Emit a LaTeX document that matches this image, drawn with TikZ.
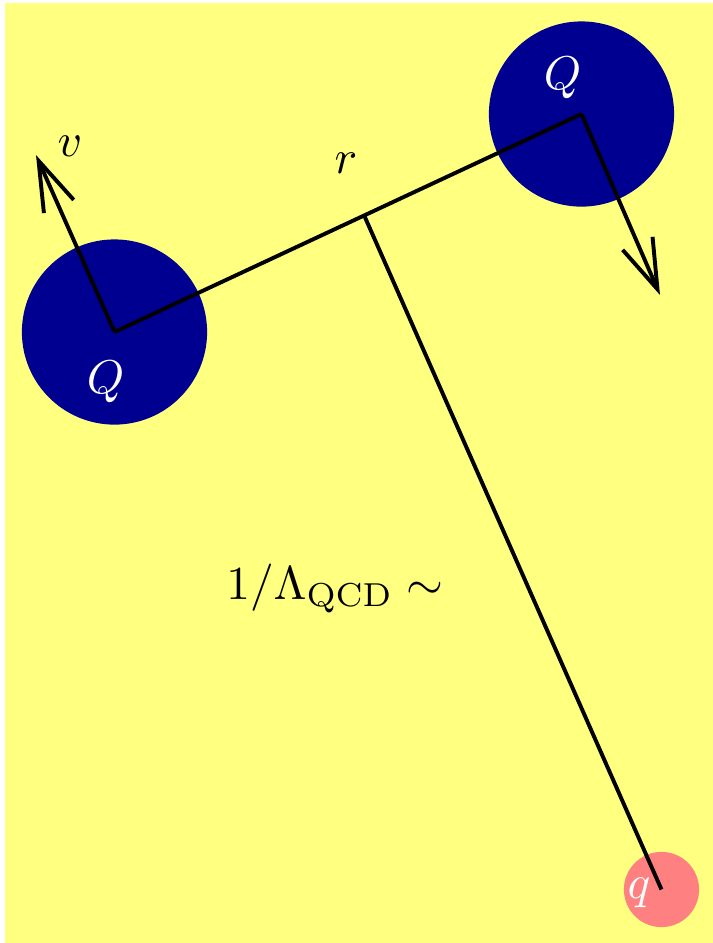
\documentclass[tikz,border=0pt]{standalone}
\usetikzlibrary{arrows.meta}
\definecolor{bgyellow}{RGB}{255,255,128}
\definecolor{heavyblue}{RGB}{0,0,144}
\definecolor{lightquark}{RGB}{255,128,128}
\tikzset{
  heavy/.style={circle,fill=heavyblue,inner sep=0pt,minimum size=42.6pt},
  light/.style={circle,fill=lightquark,inner sep=0pt,minimum size=17.3pt},
  wlabel/.style={text=white,inner sep=0pt,scale=1.09},
  blabel/.style={text=black,inner sep=0pt,scale=1.09},
  conn/.style={line width=0.9pt},
  velarrow/.style={line width=0.9pt,-{Straight Barb[length=11.5pt,width=7.5pt,line width=0.9pt]}}
}
\begin{document}
\begin{tikzpicture}[x=0.23pt,y=-0.23pt]
\useasboundingbox (0,0) rectangle (713,943);
\fill[bgyellow] (5,3) rectangle (713,943);
\node[heavy] (Ql) at (114.5,332) {};
\node[heavy] (Qr) at (581.5,114) {};
\node[light] (q) at (661.5,889.5) {};
\coordinate (foot) at (364,215);
\coordinate (vl) at (36,155);
\coordinate (vr) at (660,295);
\draw[conn] (Ql.center) -- (Qr.center);
\draw[conn] (foot) -- (q.center);
\draw[velarrow] (Ql.center) -- (vl);
\draw[velarrow] (Qr.center) -- (vr);
\node[wlabel] (QlT) at (105.5,382) {$Q$};
\node[wlabel] (QrT) at (562.5,78) {$Q$};
\node[wlabel] (qT) at (639,893) {$q$};
\node[blabel] (vT) at (70,146) {$v$};
\node[blabel] (rT) at (346,163) {$r$};
\node[blabel] (lam) at (335,588) {$1/\Lambda_{\mathrm{QCD}}\sim$};
\end{tikzpicture}
\end{document}
